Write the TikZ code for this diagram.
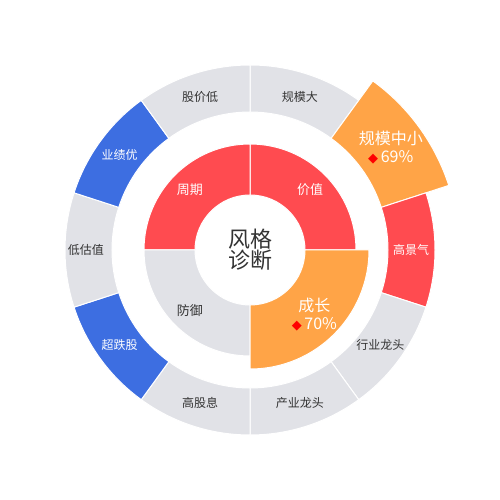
\documentclass[tikz,border=0pt]{standalone}
\usepackage{fontspec}
\setmainfont{Noto Sans CJK SC}
\newfontfamily\symfont{DejaVu Sans}
\definecolor{cred}{HTML}{FF4B50}
\definecolor{corange}{HTML}{FFA447}
\definecolor{cblue}{HTML}{3D6EE1}
\definecolor{cgray}{HTML}{E1E2E7}
\definecolor{ctext}{HTML}{333333}
\definecolor{cdia}{HTML}{FF0000}
\newcommand{\ringseg}[5]{\filldraw[fill=#5, draw=white, line width=1pt] (#1:#3) arc[start angle=#1, end angle=#2, radius=#3] -- (#2:#4) arc[start angle=#2, end angle=#1, radius=#4] -- cycle;}
\tikzset{
  lbldark/.style={text=ctext, font=\fontsize{12}{14}\selectfont, inner sep=0pt},
  lbllight/.style={text=white, font=\fontsize{12}{14}\selectfont, inner sep=0pt},
  lblbig/.style={text=white, font=\fontsize{16}{19}\selectfont, inner sep=0pt, align=center},
}
\newcommand{\dia}{{\symfont\fontsize{13}{12}\selectfont\textcolor{cdia}{◆}}}
\begin{document}
\begin{tikzpicture}[x=1pt,y=1pt]
\useasboundingbox (-250,-250) rectangle (250,250);
% outer ring
\ringseg{54}{90}{138}{185}{cgray}
\ringseg{18}{54}{138}{209}{corange}
\ringseg{-18}{18}{138}{185}{cred}
\ringseg{-54}{-18}{138}{185}{cgray}
\ringseg{-90}{-54}{138}{185}{cgray}
\ringseg{-126}{-90}{138}{185}{cgray}
\ringseg{-162}{-126}{138}{185}{cblue}
\ringseg{162}{198}{138}{185}{cgray}
\ringseg{126}{162}{138}{185}{cblue}
\ringseg{90}{126}{138}{185}{cgray}
% inner ring
\ringseg{0}{90}{55}{106}{cred}
\ringseg{90}{180}{55}{106}{cred}
\ringseg{180}{270}{55}{106}{cgray}
\ringseg{270}{360}{55}{119}{corange}
% outer labels
\node[lbldark] (gmd) at (72:161) {规模大};
\node[lblbig] (gmzx) at (36:174) {规模中小\\[-1pt]\dia\,69\%};
\node[lbllight] (gjq) at (0:161) {高景气};
\node[lbldark] (hylt) at (-36:161) {行业龙头};
\node[lbldark] (cylt) at (-72:161) {产业龙头};
\node[lbldark] (ggx) at (-108:161) {高股息};
\node[lbllight] (cdg) at (-144:161) {超跌股};
\node[lbldark] (dgz) at (180:164) {低估值};
\node[lbllight] (yjy) at (144:161) {业绩优};
\node[lbldark] (gjd) at (108:161) {股价低};
% inner labels
\node[lbllight, font=\fontsize{13}{15}\selectfont] (jz) at (45:85) {价值};
\node[lbllight, font=\fontsize{13}{15}\selectfont] (zq) at (135:85) {周期};
\node[lbldark, font=\fontsize{13}{15}\selectfont] (fy) at (225:85) {防御};
\node[lblbig] (cz) at (-45:91) {成长\\[-1pt]\dia\,70\%};
% center
\node[text=ctext, font=\fontsize{22}{21}\selectfont, align=center, inner sep=0pt] (center) at (0,0) {风格\\诊断};
\end{tikzpicture}
\end{document}
